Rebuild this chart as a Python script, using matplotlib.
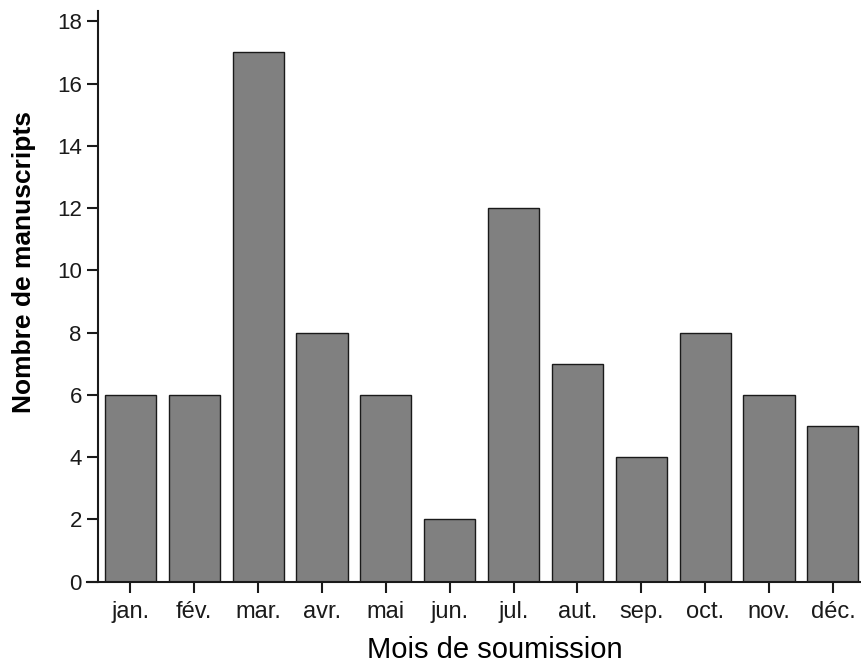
import matplotlib.pyplot as plt

plt.rcParams['font.family'] = ['Liberation Sans', 'DejaVu Sans']

# data
mois = ["jan.", "fév.", "mar.", "avr.", "mai", "jun.",
        "jul.", "aut.", "sep.", "oct.", "nov.", "déc."]
manuscrits = [6, 6, 17, 8, 6, 2, 12, 7, 4, 8, 6, 5]
yticks = list(range(0, 19, 2))

fig = plt.figure(figsize=(8.61, 6.67), dpi=100)
ax = fig.add_axes([0.101, 0.128, 0.899, 0.855])

x = list(range(len(mois)))
ax.bar(x, manuscrits, width=0.8, color="#808080", edgecolor="#1a1a1a", linewidth=1.0, zorder=2)

ax.set_xlim(-0.68, 11.44)
ax.set_ylim(0, 18.32)
ax.set_xticks(x)
ax.set_xticklabels(mois)
ax.set_yticks(yticks)
ax.set_yticklabels([str(v) for v in yticks])

ax.spines["top"].set_visible(False)
ax.spines["right"].set_visible(False)
ax.spines["left"].set_position(("data", -0.5))
for s in ("left", "bottom"):
    ax.spines[s].set_linewidth(1.5)
    ax.spines[s].set_color("#1a1a1a")

ax.tick_params(axis="both", direction="out", length=8, width=1.5, colors="#1a1a1a")
ax.tick_params(axis="y", pad=4, labelsize=16)
ax.tick_params(axis="x", pad=6, labelsize=17)

ax.set_xlabel("Mois de soumission", fontsize=21)
ax.xaxis.set_label_coords(0.527, -0.095)
ax.set_ylabel("Nombre de manuscripts", fontsize=19, fontweight="bold")
ax.yaxis.set_label_coords(-0.066, 0.56)

fig.savefig("out.png", dpi=100)
